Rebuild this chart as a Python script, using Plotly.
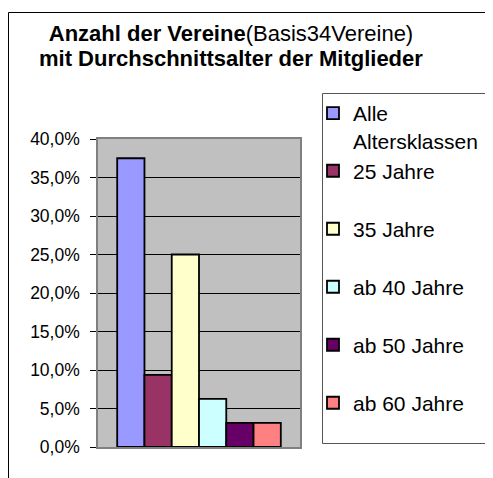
import plotly.graph_objects as go

categories = ["Alle<br>Altersklassen", "25 Jahre", "35 Jahre", "ab 40 Jahre", "ab 50 Jahre", "ab 60 Jahre"]
values = [0.375, 0.09375, 0.25, 0.0625, 0.03125, 0.03125]
colors = ["#9999FF", "#993366", "#FFFFCC", "#CCFFFF", "#660066", "#FF8080"]
groups = ["g1", "g1", "g2", "g3", "g4", "g5"]
y_ticks = [0, 0.05, 0.10, 0.15, 0.20, 0.25, 0.30, 0.35, 0.40]
title_line1 = "<b>Anzahl der Vereine</b>(Basis34Vereine)"
title_line2 = "<b>mit Durchschnittsalter der Mitglieder</b>"

# page body has an 8px margin; figure sized to fit the window
OFF = 8
W, H = 493 - OFF, 478 - OFF
# plot area in window pixels: x 98..300, y 139..447
L = 98 - OFF
T = 139 - OFF
R = W - (300 - OFF)
B = H - (447 - OFF)
pw, ph = W - L - R, H - T - B


def px_x(p):
    """window pixel x -> paper x"""
    return (p - OFF - L) / pw


def px_y(p):
    """window pixel y -> paper y"""
    return (H - B - (p - OFF)) / ph


FONT = "Liberation Sans, Arial, sans-serif"

fig = go.Figure()
for name, v, c, g in zip(categories, values, colors, groups):
    fig.add_trace(go.Bar(
        x=[""], y=[v], name=name, legendgroup=g,
        marker=dict(color=c, line=dict(color="black", width=1.8)),
        hoverinfo="skip",
    ))

fig.update_layout(
    width=W, height=H,
    margin=dict(l=L, r=R, t=T, b=B, autoexpand=False),
    paper_bgcolor="white",
    plot_bgcolor="#C0C0C0",
    separators=",.",
    barmode="group",
    bargap=0.19,
    bargroupgap=0,
    font=dict(family=FONT, color="black"),
    title=dict(
        text=title_line1,
        font=dict(family=FONT, size=22, color="black"),
        xref="container", yref="container",
        x=(231 - OFF) / W, xanchor="center",
        y=1 - (33 - OFF) / H, yanchor="middle",
    ),
    annotations=[
        dict(text=title_line2, xref="paper", yref="paper",
             x=px_x(231), y=px_y(58), xanchor="center", yanchor="middle",
             showarrow=False, font=dict(family=FONT, size=22, color="black")),
    ],
    xaxis=dict(
        showticklabels=False, ticks="", showgrid=False, zeroline=False,
        showline=True, mirror=True, linecolor="#808080", linewidth=1.5,
        fixedrange=True,
    ),
    yaxis=dict(
        range=[0, 0.4], tickvals=y_ticks, tickformat=".1%",
        showgrid=True, gridcolor="black", gridwidth=1,
        zeroline=False,
        showline=True, mirror=True, linecolor="#808080", linewidth=1.5,
        ticks="outside", ticklen=6, tickcolor="black", tickwidth=1,
        ticklabelstandoff=7,
        tickfont=dict(family=FONT, size=17.5, color="black"),
    ),
    legend=dict(
        x=px_x(305 + OFF), xanchor="left",
        y=px_y(85 + OFF), yanchor="top",
        bgcolor="rgba(0,0,0,0)", borderwidth=0,
        font=dict(family=FONT, size=21, color="black"),
        tracegroupgap=27.7,
        valign="top",
        traceorder="grouped",
        maxheight=440,
    ),
    showlegend=True,
    shapes=[
        dict(type="rect", xref="paper", yref="paper",
             x0=px_x(322.5), x1=px_x(485.5), y0=px_y(443.5), y1=px_y(93.5),
             line=dict(color="#555555", width=1), fillcolor="rgba(0,0,0,0)", layer="above"),
        dict(type="rect", xref="paper", yref="paper",
             x0=px_x(8.5), x1=px_x(520), y0=px_y(520), y1=px_y(12.5),
             line=dict(color="black", width=1), fillcolor="rgba(0,0,0,0)", layer="above"),
    ],
)

fig.write_html("out.html")
